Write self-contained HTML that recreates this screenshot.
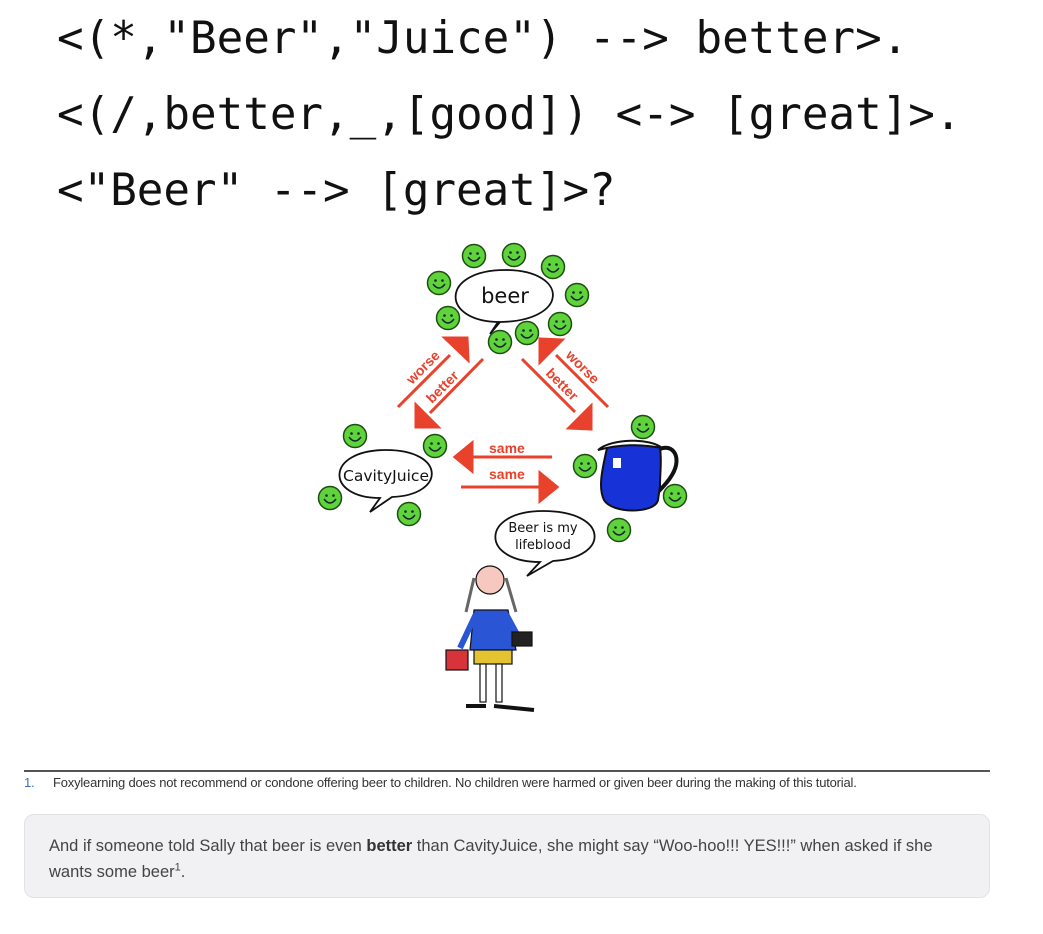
<!DOCTYPE html>
<html><head><meta charset="utf-8"><style>
html,body{margin:0;padding:0;background:#fff;width:1043px;height:934px;overflow:hidden;position:relative}
.code{position:absolute;left:57px;font-family:"DejaVu Sans Mono","Liberation Mono",monospace;font-size:44.2px;color:#111;white-space:pre;line-height:1}
.fn{position:absolute;left:24px;top:770px;width:966px;border-top:2px solid #555;font-family:"Liberation Sans",sans-serif;font-size:13px;color:#333;letter-spacing:-0.2px}
.box{position:absolute;left:24px;top:814px;width:966px;height:84px;background:#f1f0f3;border:1px solid #e2e2e6;border-radius:10px;font-family:"Liberation Sans",sans-serif;font-size:16.5px;color:#444;line-height:26px;box-sizing:border-box;padding:18px 50px 0 24px;letter-spacing:0}
</style></head><body>
<div class="code" style="top:17px">&lt;(*,"Beer","Juice") --&gt; better&gt;.</div>
<div class="code" style="top:93px">&lt;(/,better,_,[good]) &lt;-&gt; [great]&gt;.</div>
<div class="code" style="top:169px">&lt;"Beer" --&gt; [great]&gt;?</div>

<svg style="position:absolute;left:0;top:0" width="1043" height="760" viewBox="0 0 1043 760">
<defs>
<g id="s"><circle r="11.5" fill="#5fd33a" stroke="#1d4d12" stroke-width="1.5"/><circle cx="-3.5" cy="-2.5" r="1.3" fill="#123"/><circle cx="3.5" cy="-2.5" r="1.3" fill="#123"/><path d="M-6,1 Q0,9 6,1" fill="none" stroke="#123" stroke-width="1.5"/></g>
</defs>
<g fill="#fff" stroke="#111" stroke-width="1.8">
<path d="M505,270 C440,270 440,322 500,322 L490,334 L498,322 C570,322 570,270 505,270Z"/>
<path d="M386,450 C325,450 325,498 380,498 L370,512 L392,497 C446,495 446,450 386,450Z"/>
<path d="M543,511 C480,511 480,562 540,562 L527,576 L553,561 C610,558 610,511 543,511Z"/>
</g>
<g font-family="'DejaVu Sans',sans-serif" fill="#111" text-anchor="middle">
<text x="505" y="303" font-size="21">beer</text>
<text x="386" y="481" font-size="15" textLength="86" lengthAdjust="spacingAndGlyphs">CavityJuice</text>
<text x="543" y="532" font-size="13">Beer is my</text>
<text x="543" y="549" font-size="13">lifeblood</text>
</g>
<g stroke="#e8412c" stroke-width="3" fill="#e8412c">
<line x1="398" y1="407" x2="450" y2="355"/><polygon points="467,338 468,360 445,338"/>
<line x1="483" y1="359" x2="430" y2="413"/><polygon points="416,427 416,405 438,427"/>
<line x1="608" y1="407" x2="556" y2="355"/><polygon points="540,339 562,340 540,362"/>
<line x1="522" y1="359" x2="575" y2="412"/><polygon points="591,429 569,428 591,406"/>
<line x1="552" y1="457" x2="470" y2="457"/><polygon points="455,457 472,443 472,471"/>
<line x1="461" y1="487" x2="540" y2="487"/><polygon points="557,487 540,473 540,501"/>
</g>
<g font-family="'Liberation Sans',sans-serif" font-weight="bold" font-size="14" fill="#e8412c">
<text x="489" y="453">same</text><text x="489" y="479">same</text>
<text transform="translate(412,385) rotate(-45)">worse</text>
<text transform="translate(432,404) rotate(-45)">better</text>
<text transform="translate(565,356) rotate(45)">worse</text>
<text transform="translate(545,374) rotate(45)">better</text>
</g>
<!-- jug -->
<path d="M655,452 C670,440 684,455 672,475 C668,482 662,488 658,492" fill="none" stroke="#111" stroke-width="4"/>
<path d="M607,448 C615,440 650,440 660,448 C662,462 660,470 660,486 L658,500 C655,514 612,514 604,500 C598,488 602,470 607,448Z" fill="#1733d8" stroke="#111" stroke-width="2"/>
<path d="M598,450 C612,438 650,438 662,448 C640,444 620,444 598,450Z" fill="#fff" stroke="#111" stroke-width="2"/>
<rect x="613" y="458" width="8" height="10" fill="#fff"/>
<!-- girl -->
<g stroke="#111" stroke-width="1.2">
<path d="M474,578 L466,612 M506,578 L516,612" stroke="#666" stroke-width="3"/>
<circle cx="490" cy="580" r="14" fill="#f6c8c0"/>
<path d="M474,610 L508,610 L516,650 L470,650Z" fill="#2a56d6"/>
<path d="M476,614 L460,648 M506,614 L520,640" stroke="#2a56d6" stroke-width="6"/>
<rect x="474" y="650" width="38" height="14" fill="#e4c333"/>
<rect x="480" y="664" width="6" height="38" fill="#fff"/><rect x="496" y="664" width="6" height="38" fill="#fff"/>
<path d="M466,706 L486,706 M494,706 L534,710" stroke-width="4"/>
<rect x="446" y="650" width="22" height="20" fill="#d6343a"/>
<rect x="512" y="632" width="20" height="14" fill="#222"/>
</g>
<g>
<use href="#s" x="474" y="256"/><use href="#s" x="514" y="255"/><use href="#s" x="553" y="267"/>
<use href="#s" x="439" y="283"/><use href="#s" x="577" y="295"/><use href="#s" x="448" y="318"/>
<use href="#s" x="560" y="324"/><use href="#s" x="527" y="333"/><use href="#s" x="500" y="342"/>
<use href="#s" x="355" y="436"/><use href="#s" x="435" y="446"/><use href="#s" x="330" y="498"/>
<use href="#s" x="409" y="514"/><use href="#s" x="643" y="427"/><use href="#s" x="585" y="466"/>
<use href="#s" x="675" y="496"/><use href="#s" x="619" y="530"/>
</g>
</svg>

<div class="fn"><span style="color:#3b6fc8;position:absolute;left:0;top:3px">1.</span><span style="position:absolute;left:29px;top:3px;white-space:nowrap">Foxylearning does not recommend or condone offering beer to children. No children were harmed or given beer during the making of this tutorial.</span></div>
<div class="box">And if someone told Sally that beer is even <b style="color:#333">better</b> than CavityJuice, she might say “Woo-hoo!!! YES!!!” when asked if she wants some beer<sup style="font-size:11px;line-height:0">1</sup>.</div>
</body></html>
